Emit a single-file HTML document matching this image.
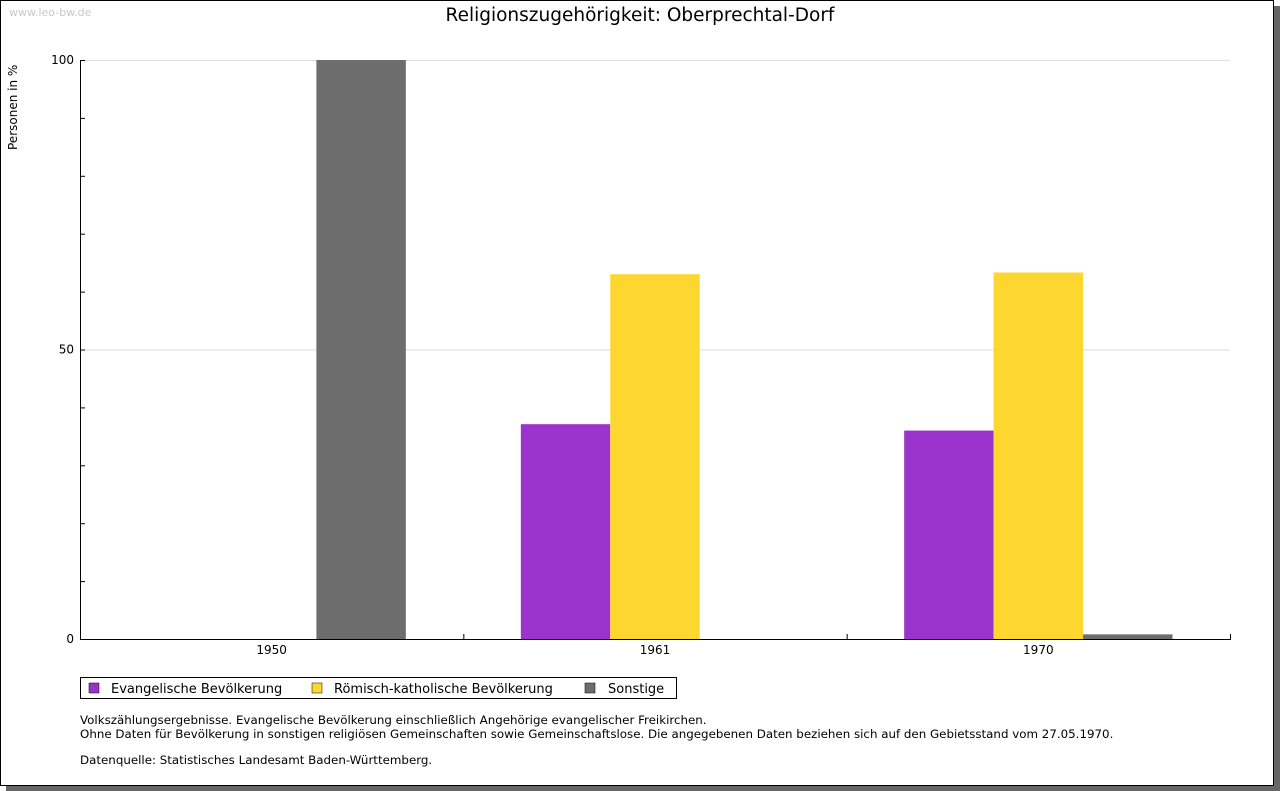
<!DOCTYPE html>
<html><head><meta charset="utf-8"><style>
body{margin:0;width:1280px;height:791px;background:#fff;font-family:"DejaVu Sans","Liberation Sans",sans-serif;overflow:hidden}
#frame{position:absolute;left:0;top:0;width:1272px;height:784px;border:1px solid #000;background:#fff;box-shadow:6px 6px 0 #666}
</style></head><body>
<div id="frame"></div>
<svg id="chart" width="1280" height="791" style="position:absolute;left:0;top:0" font-family="DejaVu Sans, Liberation Sans, sans-serif">
<text x="9" y="16" font-size="11" fill="#c8c8c8">www.leo-bw.de</text>
<text x="640" y="21" font-size="18.5" text-anchor="middle" fill="#000">Religionszugehörigkeit: Oberprechtal-Dorf</text>
<text transform="translate(17,150) rotate(-90)" font-size="12" fill="#000">Personen in %</text>
<g id="plot"></g>
<g>
<rect x="80.5" y="677.5" width="596" height="21" fill="#fff" stroke="#000"/>
<rect x="89" y="683" width="10" height="10" fill="#9933cc" stroke="#000" stroke-width="0.5"/>
<text x="111" y="693" font-size="13">Evangelische Bevölkerung</text>
<rect x="312" y="683" width="10" height="10" fill="#fdd72f" stroke="#000" stroke-width="0.5"/>
<text x="334" y="693" font-size="13">Römisch-katholische Bevölkerung</text>
<rect x="585" y="683" width="10" height="10" fill="#6d6d6d" stroke="#000" stroke-width="0.5"/>
<text x="608" y="693" font-size="13">Sonstige</text>
</g>
<g font-size="11.85" fill="#000">
<text x="80" y="724">Volkszählungsergebnisse. Evangelische Bevölkerung einschließlich Angehörige evangelischer Freikirchen.</text>
<text x="80" y="738">Ohne Daten für Bevölkerung in sonstigen religiösen Gemeinschaften sowie Gemeinschaftslose. Die angegebenen Daten beziehen sich auf den Gebietsstand vom 27.05.1970.</text>
<text x="80" y="764">Datenquelle: Statistisches Landesamt Baden-Württemberg.</text>
</g>
</svg>
<script>
const categories=["1950","1961","1970"];
const evangelisch=[0,37.1,36.0];
const katholisch=[0,63.0,63.3];
const sonstige=[100,0,0.8];
const yTicks=[0,50,100];
const NS="http://www.w3.org/2000/svg";
const X0=80,X1=1230,Y0=639,Y1=60;
const y=v=>Y0-(v/100)*(Y0-Y1);
const bw=(X1-X0)/categories.length;
const x=i=>X0+bw*i;
const g=document.getElementById('plot');
function mk(t,a){const e=document.createElementNS(NS,t);for(const k in a)e.setAttribute(k,a[k]);g.appendChild(e);return e;}
yTicks.forEach(t=>{
 const l=mk('line',{x1:X0,x2:X1,y1:y(t)+.5,y2:y(t)+.5,stroke:'#ddd'});
 
 
 const tx=mk('text',{x:X0-6,y:y(t)+4,'font-size':12,'text-anchor':'end'});tx.textContent=t;
 
 
});
for(let v=0;v<=100;v+=10){mk('line',{x1:X0,x2:X0+5,y1:y(v)+.5,y2:y(v)+.5,stroke:'#000'});}
const series=[[evangelisch,'#9933cc','evangelisch'],[katholisch,'#fdd72f','katholisch'],[sonstige,'#6d6d6d','sonstige']];
const barW=bw*0.7/3;
categories.forEach((c,i)=>{
 const start=x(i)+bw*0.15;
 series.forEach((s,j)=>{
  const v=s[0][i];if(v<=0)return;
  const r=mk('rect',{x:start+j*barW,y:y(v),width:barW,height:Y0-y(v),fill:s[1]});
  
  
 });
 const tx=mk('text',{x:x(i)+bw/2,y:Y0+15,'font-size':12,'text-anchor':'middle'});tx.textContent=c;
 
 
 mk('line',{x1:x(i+1)+.5,x2:x(i+1)+.5,y1:Y0-5,y2:Y0,stroke:'#000'});
});
const ya=mk('line',{x1:X0+.5,x2:X0+.5,y1:Y1,y2:Y0+1,stroke:'#000'});


const xa=mk('line',{x1:X0,x2:X1+1,y1:Y0+.5,y2:Y0+.5,stroke:'#000'});


</script>
</body></html>
